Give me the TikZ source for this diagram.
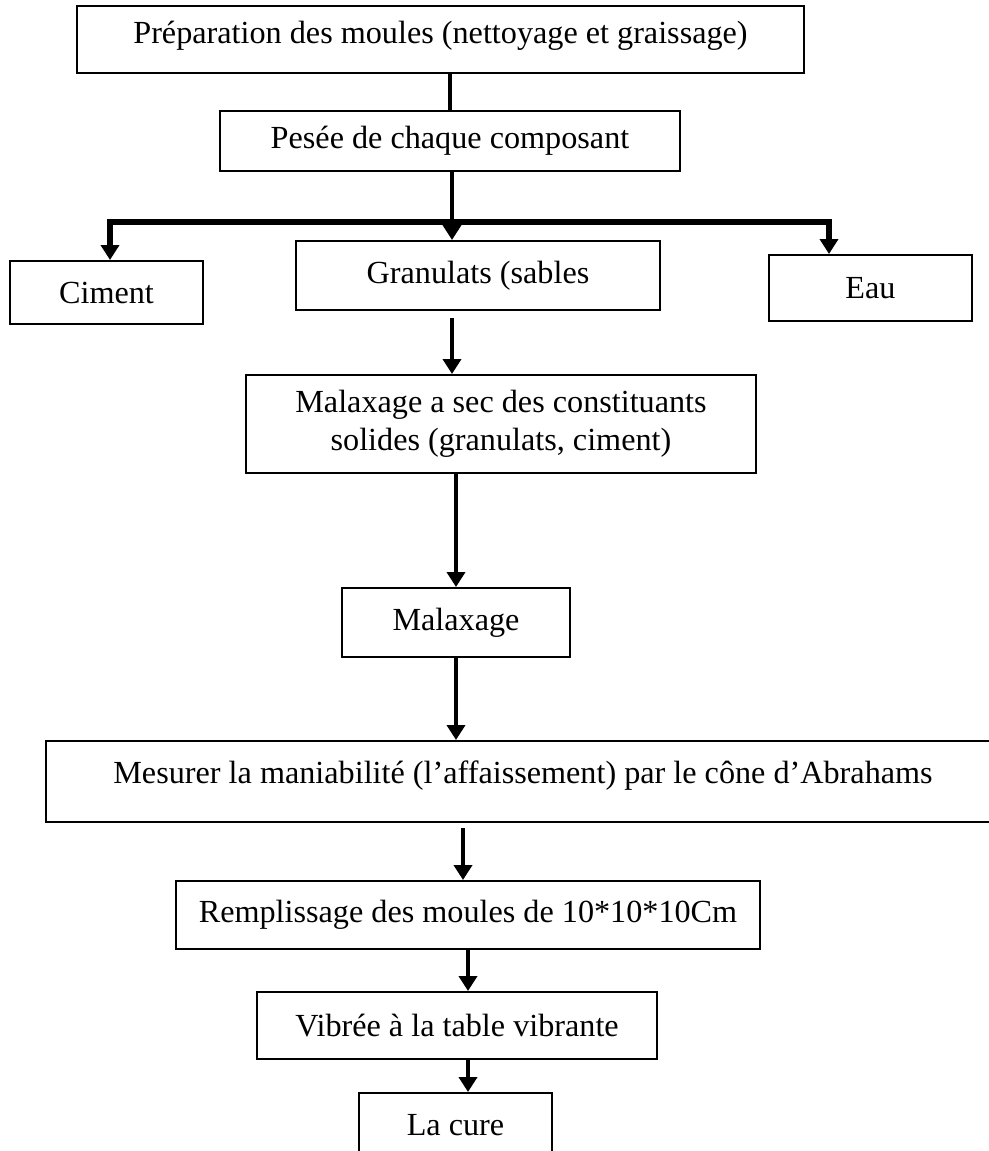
\documentclass[tikz,border=0pt]{standalone}
\usepackage{fontspec}
\setmainfont{Liberation Serif}
\usetikzlibrary{arrows.meta, positioning, calc}

\begin{document}
\begin{tikzpicture}[x=0.5pt, y=-0.5pt,
    stepbox/.style={draw, line width=1pt, inner sep=0pt, align=center,
      font=\fontsize{16.1}{19}\selectfont},
    link/.style={line width=2.2pt},
    flow/.style={line width=2.2pt, -{Triangle[length=7.5pt, width=9pt]}},
    bus/.style={line width=3pt, -{Triangle[length=7.5pt, width=9pt]}}]
    % Page frame
    \useasboundingbox (0,0) rectangle (989,1151);

    % Preparation and weighing
    \node[stepbox, minimum width=363.5pt, minimum height=33.5pt, text depth=7pt] (prep) at (440.5,39.5) {Préparation des moules (nettoyage et graissage)};
    \node[stepbox, minimum width=230pt, minimum height=30pt] (pesee) at (450,141) {Pesée de chaque composant};

    % Components
    \node[stepbox, minimum width=96.5pt, minimum height=31.5pt] (ciment) at (106.5,292.5) {Ciment};
    \node[stepbox, minimum width=182pt, minimum height=34.5pt] (granulats) at (478,275.5) {Granulats (sables};
    \node[stepbox, minimum width=101.5pt, minimum height=33pt] (eau) at (870.5,288) {Eau};

    % Mixing
    \node[stepbox, minimum width=255pt, minimum height=49pt] (malsec) at (501,424) {Malaxage a sec des constituants\\solides (granulats, ciment)};
    \node[stepbox, minimum width=114pt, minimum height=34.5pt] (malax) at (456,622.5) {Malaxage};

    % Testing and casting
    \node[stepbox, minimum width=477pt, minimum height=40.5pt, text depth=9pt] (mesure) at (523,781.5) {Mesurer la maniabilité (l’affaissement) par le cône d’Abrahams};
    \node[stepbox, minimum width=292pt, minimum height=34pt] (rempl) at (468,915) {Remplissage des moules de 10*10*10Cm};
    \node[stepbox, minimum width=200pt, minimum height=33.5pt] (vibree) at (457,1025.5) {Vibrée à la table vibrante};
    \node[stepbox, minimum width=96.5pt, minimum height=32pt] (cure) at (455.5,1125) {La cure};

    % Fork below the weighing step
    \coordinate (fork) at (452,222);
    \coordinate (forkL) at (110,222);
    \coordinate (forkR) at (829,222);

    % Connectors
    \draw[link] (pesee.north |- prep.south) -- (pesee.north);
    \draw[link] (fork |- pesee.south) -- (fork);
    \draw[bus] (fork) -- (forkL) -- (forkL |- ciment.north);
    \draw[bus] (fork) -- (forkR) -- (forkR |- eau.north);
    \draw[flow] (fork) -- (fork |- granulats.north);
    \draw[flow, shorten <=3.5pt] (fork |- granulats.south) -- (fork |- malsec.north);
    \draw[flow] (malax.north |- malsec.south) -- (malax.north);
    \draw[flow] (malax.south) -- (malax.south |- mesure.north);
    \draw[flow, shorten <=2.5pt] ([xshift=-2.5pt]rempl.north |- mesure.south) -- ([xshift=-2.5pt]rempl.north);
    \draw[flow] (rempl.south) -- (rempl.south |- vibree.north);
    \draw[flow] (vibree.south -| rempl.south) -- (cure.north -| rempl.south);
\end{tikzpicture}
\end{document}
